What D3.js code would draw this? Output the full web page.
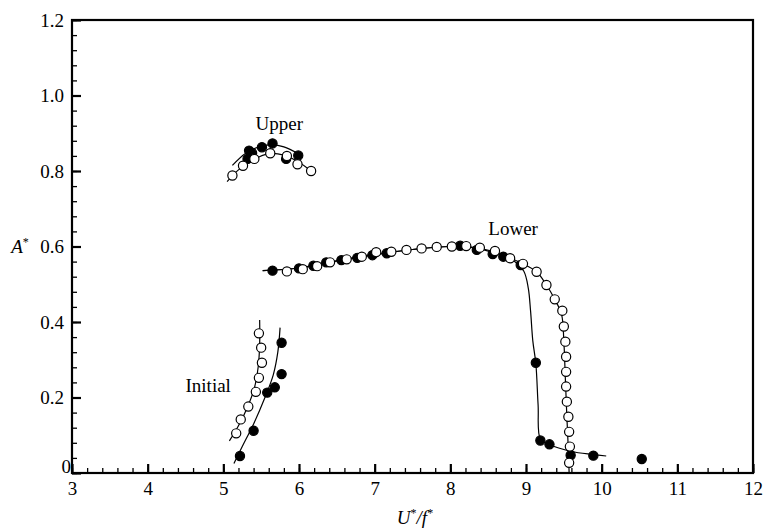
<!DOCTYPE html>
<html>
<head>
<meta charset="utf-8">
<script src="https://cdn.jsdelivr.net/npm/d3@7"></script>
<style>
body{margin:0;background:#fff;}
svg text{font-family:"Liberation Serif","Times New Roman",serif !important;fill:#000;}
</style>
</head>
<body>
<svg id="chart" width="765" height="528" font-family="Liberation Serif"></svg>
<script>
// data: [U*/f*, A*]
var upperFilled = [[5.32,0.832],[5.34,0.854],[5.38,0.848],[5.51,0.863],[5.65,0.873],[5.83,0.832],[5.99,0.841]];
var upperOpen = [[5.12,0.788],[5.26,0.814],[5.41,0.832],[5.62,0.847],[5.84,0.840],[5.98,0.818],[6.16,0.800]];
var lowerFilled = [[5.65,0.536],[6.0,0.542],[6.19,0.549],[6.36,0.558],[6.56,0.564],[6.77,0.570],[6.97,0.577],[7.16,0.582],
  [8.13,0.602],[8.35,0.591],[8.56,0.580],[8.70,0.573],[8.93,0.551],[9.13,0.292],[9.19,0.086],[9.31,0.076],[9.59,0.047],[9.89,0.046],[10.53,0.037]];
var lowerOpen = [[5.84,0.534],[6.05,0.540],[6.24,0.548],[6.41,0.558],[6.63,0.566],[6.83,0.573],[7.02,0.585],[7.22,0.586],
  [7.42,0.591],[7.62,0.595],[7.82,0.599],[8.02,0.600],[8.21,0.601],[8.39,0.597],[8.59,0.588],[8.79,0.569],[8.96,0.554],
  [9.14,0.533],[9.27,0.498],[9.38,0.460],[9.48,0.430],[9.50,0.388],[9.52,0.348],[9.53,0.308],[9.53,0.268],[9.53,0.229],
  [9.54,0.189],[9.56,0.149],[9.57,0.109],[9.58,0.070],[9.57,0.027]];
var initialFilled = [[5.22,0.045],[5.40,0.112],[5.58,0.213],[5.68,0.227],[5.77,0.262],[5.77,0.345]];
var initialOpen = [[5.17,0.105],[5.23,0.142],[5.33,0.176],[5.43,0.215],[5.47,0.252],[5.51,0.292],[5.50,0.332],[5.47,0.370]];

// fitted curves
var upperFilledFit = [[5.12,0.815],[5.30,0.848],[5.50,0.866],[5.65,0.870],[5.80,0.864],[6.00,0.845]];
var upperOpenFit = [[5.05,0.772],[5.20,0.803],[5.40,0.830],[5.60,0.846],[5.80,0.842],[6.00,0.823],[6.20,0.793]];
var lowerFilledFit = [[5.52,0.536],[6.0,0.543],[6.5,0.562],[7.0,0.578],[7.5,0.592],[8.0,0.600],[8.3,0.597],[8.6,0.582],
  [8.85,0.560],[8.97,0.535],[9.03,0.49],[9.06,0.43],[9.09,0.35],[9.13,0.29],[9.16,0.18],[9.19,0.09],[9.30,0.076],
  [9.60,0.057],[9.90,0.049],[10.06,0.045]];
var lowerOpenFit = [[5.52,0.536],[6.0,0.543],[6.5,0.562],[7.0,0.580],[7.5,0.592],[8.0,0.600],[8.3,0.598],[8.6,0.585],
  [8.8,0.569],[8.96,0.554],[9.14,0.533],[9.27,0.498],[9.38,0.46],[9.47,0.42],[9.50,0.35],[9.52,0.25],[9.54,0.15],
  [9.56,0.06],[9.57,0.0]];
var initialFilledFit = [[5.14,0.025],[5.25,0.07],[5.40,0.13],[5.55,0.20],[5.66,0.26],[5.72,0.32],[5.75,0.385]];
var initialOpenFit = [[5.08,0.085],[5.20,0.125],[5.32,0.175],[5.41,0.225],[5.46,0.28],[5.48,0.34],[5.48,0.405]];

var xMajor = [3,4,5,6,7,8,9,10,11,12];
var yMajor = [0,0.2,0.4,0.6,0.8,1.0,1.2];
var annotations = [{t:"Upper",x:5.74,y:0.927},{t:"Lower",x:8.83,y:0.649},{t:"Initial",x:4.80,y:0.233}];

var FONT = '"Liberation Serif","Times New Roman",serif';
var svg = d3.select("#chart");
var x = d3.scaleLinear().domain([3,12]).range([72,753]);
var y = d3.scaleLinear().domain([0,1.2]).range([473,20]);

var xMinor = d3.range(3,12.001,0.2).map(function(d){return +d.toFixed(2);});
var yMinor = d3.range(0,1.2001,0.04).map(function(d){return +d.toFixed(2);});

// minor ticks
svg.append("g").attr("transform","translate(0,473)")
  .call(d3.axisBottom(x).tickValues(xMinor).tickSize(-5).tickFormat(""))
  .call(function(g){g.select(".domain").remove(); g.selectAll("line").attr("stroke-width",1.3);});
svg.append("g").attr("transform","translate(72,0)")
  .call(d3.axisLeft(y).tickValues(yMinor).tickSize(-5).tickFormat(""))
  .call(function(g){g.select(".domain").remove(); g.selectAll("line").attr("stroke-width",1.3);});

// major ticks + labels
var xAxis = svg.append("g").attr("transform","translate(0,473)")
  .call(d3.axisBottom(x).tickValues(xMajor).tickSize(-9).tickPadding(9).tickFormat(d3.format("d")));
var yAxis = svg.append("g").attr("transform","translate(72,0)")
  .call(d3.axisLeft(y).tickValues(yMajor).tickSize(-9).tickPadding(8)
    .tickFormat(function(d){return d===0 ? "0" : d3.format(".1f")(d);}));
[xAxis,yAxis].forEach(function(g){
  g.attr("font-family",FONT);
  g.select(".domain").remove();
  g.selectAll("line").attr("stroke-width",2.2);
  g.selectAll("text").style("font-family",FONT).style("font-size","19px").attr("fill","#000");
});
// "0" sits raised at the corner
yAxis.selectAll(".tick text").filter(function(d){return d===0;})
  .attr("x",-1).attr("dy","-0.05em");

// frame
svg.append("rect").attr("x",72).attr("y",20).attr("width",753-72).attr("height",473-20)
  .attr("fill","none").attr("stroke","#000").attr("stroke-width",2.2);

// axis titles
var yt = svg.append("text").attr("x",20).attr("y",253).attr("text-anchor","middle")
  .style("font-family",FONT).style("font-size","19px");
yt.append("tspan").style("font-style","italic").text("A");
yt.append("tspan").attr("dy",-7).style("font-size","12px").text("*");
var xt = svg.append("text").attr("x",415).attr("y",524).attr("text-anchor","middle")
  .style("font-family",FONT).style("font-size","19px");
xt.append("tspan").style("font-style","italic").text("U");
xt.append("tspan").attr("dy",-7).style("font-size","12px").text("*");
xt.append("tspan").attr("dy",7).style("font-style","italic").text("/f");
xt.append("tspan").attr("dy",-7).style("font-size","12px").text("*");

// fit lines
var line = d3.line().x(function(d){return x(d[0]);}).y(function(d){return y(d[1]);})
  .curve(d3.curveCatmullRom.alpha(0.5));
var fits = [upperFilledFit,upperOpenFit,lowerFilledFit,lowerOpenFit,initialFilledFit,initialOpenFit];
svg.selectAll(".fit").data(fits).enter().append("path")
  .attr("class","fit").attr("d",line)
  .attr("fill","none").attr("stroke","#000").attr("stroke-width",1.2);

// symbols
function drawPoints(data, filled, cls){
  svg.selectAll("."+cls).data(data).enter().append("circle")
    .attr("class",cls)
    .attr("cx",function(d){return x(d[0]);})
    .attr("cy",function(d){return y(d[1]);})
    .attr("r",4.6)
    .attr("fill",filled ? "#000" : "#fff")
    .attr("stroke","#000").attr("stroke-width",1.2);
}
drawPoints(upperFilled,true,"uf");
drawPoints(lowerFilled,true,"lf");
drawPoints(initialFilled,true,"if");
drawPoints(upperOpen,false,"uo");
drawPoints(lowerOpen,false,"lo");
drawPoints(initialOpen,false,"io");

svg.selectAll(".ann").data(annotations).enter().append("text")
  .attr("class","ann")
  .attr("x",function(d){return x(d.x);})
  .attr("y",function(d){return y(d.y);})
  .attr("dy","0.35em").attr("text-anchor","middle")
  .style("font-family",FONT).style("font-size","19px")
  .text(function(d){return d.t;});
</script>
</body>
</html>
